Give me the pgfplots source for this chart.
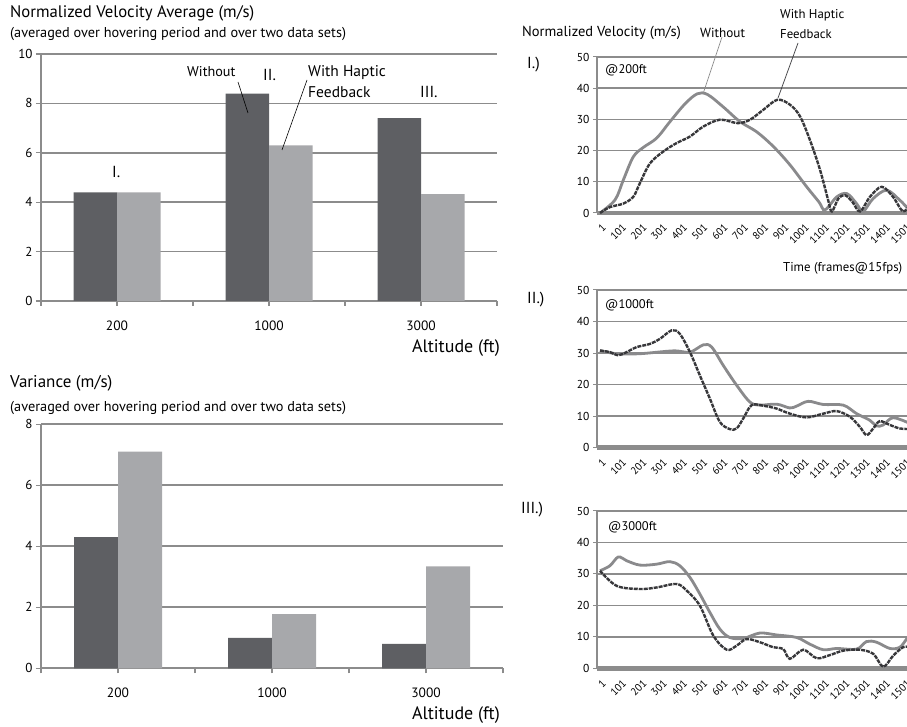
\documentclass[border=0pt]{standalone}
\usepackage{pgfplots}
\pgfplotsset{compat=1.18}
\usepackage{fontspec}
\setmainfont{PT Sans}
\definecolor{darkbar}{HTML}{5E5F63}
\definecolor{lightbar}{HTML}{A7A8AB}
\definecolor{gridc}{HTML}{8C8C8C}
\definecolor{lightline}{HTML}{8A8A8C}
\definecolor{darkline}{HTML}{37373A}
\newcommand{\fs}[1]{\fontsize{#1}{#1}\selectfont}
\pgfplotsset{
 barax/.style={
  scale only axis, anchor=south west,
  axis x line=bottom, axis y line=left,
  axis line style={draw=gridc, line width=1.6pt, -},
  xmin=-0.5, xmax=2.5, ymin=0,
  ymajorgrids, grid style={draw=gridc, line width=1.6pt},
  tick align=outside, major tick length=5pt,
  ytick style={draw=gridc, line width=1.2pt},
  xtick={-0.5,0.5,1.5,2.5}, xticklabels={},
  xtick style={draw=gridc, line width=1.2pt},
  extra x ticks={0,1,2}, extra x tick labels={200,1000,3000},
  extra x tick style={tick style={draw=none}, tick label style={font=\fs{13.5}, yshift=-11pt}},
  yticklabel style={font=\fs{13}},
  /pgf/number format/assume math mode=true,
  ybar=0pt,
 },
 linax/.style={
  scale only axis, anchor=south west,
  xmin=-13.8, xmax=1600, ymin=0, ymax=50, width=327.6pt,
  axis x line=bottom, axis y line=left,
  x axis line style={draw=gridc, line width=4.5pt, -},
  y axis line style={draw=gridc, line width=1.2pt, -},
  ymajorgrids, grid style={draw=gridc, line width=1.4pt},
  ytick={0,10,...,50}, tick align=outside, major tick length=4pt,
  ytick style={draw=gridc, line width=1pt},
  xtick={1,101,...,1501}, xtick style={draw=none},
  xticklabel style={rotate=45, anchor=north east, font=\fs{10.5}, yshift=-2pt},
  yticklabel style={font=\fs{11.5}},
  /pgf/number format/assume math mode=true,
  /pgf/number format/set thousands separator={},
  clip=false,
 },
 lightl/.style={draw=lightline, line width=2.8pt, smooth, tension=0.55, no marks},
 darkl/.style={draw=darkline, line width=2.4pt, dash pattern=on 4pt off 1pt, smooth, tension=0.55, no marks},
}
\begin{document}
\begin{tikzpicture}
% ---------- top-left bar chart
\begin{axis}[barax, at={(41pt,426pt)}, width=456pt, height=247pt, ymax=10, ytick={0,2,...,10}, bar width=43.5pt]
\addplot[fill=darkbar, draw=none] coordinates {(0,4.4) (1,8.4) (2,7.4)};
\addplot[fill=lightbar, draw=none] coordinates {(0,4.4) (1,6.3) (2,4.33)};
\end{axis}
% ---------- bottom-left bar chart
\begin{axis}[barax, at={(41pt,58.7pt)}, width=462pt, height=244pt, ymax=8, ytick={0,2,...,8}, bar width=44pt]
\addplot[fill=darkbar, draw=none] coordinates {(0,4.3) (1,1.0) (2,0.8)};
\addplot[fill=lightbar, draw=none] coordinates {(0,7.1) (1,1.78) (2,3.34)};
\end{axis}
% ---------- I. 200 ft
\begin{axis}[linax, at={(597pt,514pt)}, height=156pt]
\addplot[lightl] coordinates {(1,0) (75,4.2) (116,10.6) (165,18) (214,21) (280,24) (346,29.3) (420,35) (480,38.2) (530,38) (608,34) (690,29.3) (773,26) (855,21.3) (937,15.4) (1019,8.4) (1080,3.5) (1109,1) (1168,5.2) (1218,6.2) (1265,3) (1297,0.5) (1346,4.6) (1413,7.3) (1478,4.1) (1512,1.9) (1540,0.8)};
\addplot[darkl] coordinates {(1,0) (50,1.9) (115,3) (165,5.2) (197,9.5) (247,15.9) (313,19.7) (378,22.4) (444,24.5) (510,27.7) (592,29.9) (680,28.8) (740,29.9) (806,33.1) (875,36.3) (937,34.7) (986,31) (1035,23.4) (1085,13.8) (1125,4.1) (1143,0.5) (1175,4.6) (1208,5.7) (1245,3.5) (1282,0.5) (1331,5.2) (1389,8.4) (1444,5.2) (1494,0.5) (1530,3)};
\end{axis}
% ---------- II. 1000 ft
\begin{axis}[linax, at={(597pt,279.3pt)}, height=157.7pt]
\addplot[lightl] coordinates {(1,30.8) (83,29.8) (198,29.8) (362,30.7) (444,30.3) (510,32.6) (551,31.9) (608,26.1) (674,19.8) (739,14.5) (788,13.5) (871,13.8) (936,12.6) (970,13.2) (1027,14.7) (1101,13.7) (1199,13.5) (1265,10.8) (1330,8.7) (1363,6.9) (1396,7.2) (1445,9.5) (1530,7.6)};
\addplot[darkl] coordinates {(1,30.8) (50,30.3) (91,29.3) (132,30.3) (182,31.9) (247,32.9) (296,34.5) (354,37.2) (394,36.1) (444,30.3) (493,22.9) (542,15.6) (591,8.2) (640,5.9) (674,6.1) (707,9.3) (748,13.5) (806,13.3) (871,12.4) (936,10.8) (1019,9.6) (1101,10.8) (1167,11.6) (1232,9.8) (1281,6.6) (1314,4.0) (1347,6.1) (1379,8.4) (1429,7.2) (1478,6.1) (1530,5.9)};
\end{axis}
% ---------- III. 3000 ft
\begin{axis}[linax, at={(597pt,58.7pt)}, height=157.3pt]
\addplot[lightl] coordinates {(1,31) (50,32.6) (91,35.4) (132,34.2) (198,32.8) (280,33.1) (345,33.9) (394,32.6) (444,28.9) (493,23.6) (542,17.8) (591,12.5) (640,9.8) (707,9.5) (788,11.2) (871,10.6) (969,9.8) (1034,7.7) (1101,5.9) (1167,6.3) (1265,6.1) (1314,8.5) (1363,8.3) (1429,6.3) (1478,6.7) (1511,9.3) (1530,11)};
\addplot[darkl] coordinates {(1,31) (83,26.2) (198,25.2) (280,25.7) (378,26.8) (428,24.7) (493,19.9) (559,10.4) (625,5.9) (674,7.2) (723,9.3) (788,8.3) (854,6.7) (904,6.1) (936,3.0) (1002,5.9) (1068,3.2) (1133,4.2) (1199,5.6) (1281,5.9) (1347,4.6) (1396,0.5) (1445,4.0) (1494,6.7) (1530,6.7)};
\end{axis}
% ---------- texts
\begin{scope}[every node/.style={inner sep=0pt, anchor=west}]
\node[font=\fs{16.7}] at (10pt,714pt) {Normalized Velocity Average (m/s)};
\node[font=\fs{14.3}] at (10pt,693pt) {(averaged over hovering period and over two data sets)};
\node[font=\fs{17}] at (10pt,344pt) {Variance (m/s)};
\node[font=\fs{14.3}] at (10pt,319pt) {(averaged over hovering period and over two data sets)};
\node[font=\fs{18}, anchor=east] at (500pt,379pt) {Altitude (ft)};
\node[font=\fs{18}, anchor=east] at (500pt,12pt) {Altitude (ft)};
\node[font=\fs{14.2}] at (187pt,655pt) {Without};
\node[font=\fs{16}] at (263pt,652pt) {II.};
\node[font=\fs{15.5}] at (308pt,654pt) {With Haptic};
\node[font=\fs{15.5}] at (308pt,635pt) {Feedback};
\node[font=\fs{16}] at (420pt,635pt) {III.};
\node[font=\fs{16}] at (112pt,555pt) {I.};
\node[font=\fs{14.5}] at (522pt,694pt) {Normalized Velocity (m/s)};
\node[font=\fs{13.2}] at (700pt,694pt) {Without};
\node[font=\fs{12.8}] at (780pt,712pt) {With Haptic};
\node[font=\fs{12.8}] at (780pt,693pt) {Feedback};
\node[font=\fs{16}] at (527pt,662pt) {I.)};
\node[font=\fs{16}] at (527pt,427pt) {II.)};
\node[font=\fs{16}] at (521pt,217pt) {III.)};
\node[font=\fs{12.5}] at (605pt,657pt) {@200ft};
\node[font=\fs{12.5}] at (605pt,422pt) {@1000ft};
\node[font=\fs{12.5}] at (608pt,200pt) {@3000ft};
\node[font=\fs{12.8}] at (783pt,459pt) {Time (frames@15fps)};
\end{scope}
\draw[black, line width=0.6pt] (238pt,645pt) -- (248pt,614pt);
\draw[black, line width=0.6pt] (307pt,647pt) -- (282pt,577pt);
\draw[gridc, line width=0.7pt] (722pt,690pt) -- (703pt,633pt);
\draw[darkline, line width=0.7pt] (798pt,684pt) -- (778pt,629pt);
\pgfresetboundingbox
\path[use as bounding box] (0pt,0pt) rectangle (907pt,727pt);
\end{tikzpicture}
\end{document}
